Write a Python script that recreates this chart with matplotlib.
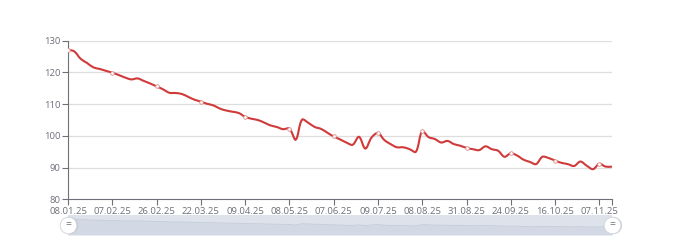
import matplotlib
matplotlib.use("Agg")
import matplotlib.pyplot as plt
import numpy as np
from matplotlib.path import Path
from matplotlib.patches import PathPatch, Rectangle

plt.rcParams["font.family"] = ["Open Sans", "DejaVu Sans"]

# one value per category; a date label is shown every LABEL_STEP points
values = [
    127.2, 126.6, 124.3, 123.0, 121.6, 121.1, 120.5, 119.9, 119.2, 118.4,
    117.8, 118.1, 117.3, 116.5, 115.6, 114.7, 113.6, 113.5, 113.2, 112.3,
    111.4, 110.8, 110.1, 109.6, 108.6, 108.0, 107.6, 107.2, 106.0, 105.4,
    105.0, 104.2, 103.3, 102.8, 102.1, 102.3, 98.8, 105.1, 104.1, 102.8,
    102.2, 101.0, 99.8, 98.9, 97.9, 97.2, 99.7, 96.0, 99.5, 100.9,
    98.7, 97.4, 96.4, 96.4, 95.8, 95.0, 101.5, 99.6, 99.0, 97.9,
    98.4, 97.4, 96.9, 96.2, 95.8, 95.5, 96.7, 95.8, 95.3, 93.4,
    94.5, 93.8, 92.5, 91.8, 91.1, 93.4, 93.0, 92.2, 91.5, 91.1,
    90.5, 91.9, 90.6, 89.5, 91.2, 90.3, 90.3,
]
tick_labels = ["08.01.25", "07.02.25", "26.02.25", "22.03.25", "09.04.25",
               "08.05.25", "07.06.25", "09.07.25", "08.08.25", "31.08.25",
               "24.09.25", "16.10.25", "07.11.25"]
LABEL_STEP = 7
y_ticks = [80, 90, 100, 110, 120, 130]

LINE = "#d03a3a"
AXIS = "#6e7079"
GRID = "#dedede"


def smooth_path(x, y, sx, sy, smooth=0.35):
    """echarts-like bezier smoothing, distances measured in pixel units"""
    px, py = x * sx, y * sy
    n = len(x)
    cps = []
    for i in range(n):
        p0 = (px[max(i - 1, 0)], py[max(i - 1, 0)])
        p2 = (px[min(i + 1, n - 1)], py[min(i + 1, n - 1)])
        vx, vy = p2[0] - p0[0], p2[1] - p0[1]
        d0 = np.hypot(px[i] - p0[0], py[i] - p0[1])
        d1 = np.hypot(p2[0] - px[i], p2[1] - py[i])
        s = d0 + d1
        if s:
            d0, d1 = d0 / s, d1 / s
        cps.append(((px[i] - vx * smooth * d0, py[i] - vy * smooth * d0),
                    (px[i] + vx * smooth * d1, py[i] + vy * smooth * d1)))
    verts = [(px[0], py[0])]
    codes = [Path.MOVETO]
    for i in range(n - 1):
        verts += [cps[i][1], cps[i + 1][0], (px[i + 1], py[i + 1])]
        codes += [Path.CURVE4] * 3
    verts = [(a / sx, b / sy) for a, b in verts]
    return Path(verts, codes)


x = np.arange(len(values), dtype=float)
y = np.array(values)

fig = plt.figure(figsize=(6.8, 2.4), dpi=100)
ax = fig.add_axes([68 / 680, 1 - 199.3 / 240, 544 / 680, 158.6 / 240])
ax.set_xlim(0, len(values) - 1)
ax.set_ylim(80, 130)

for t in y_ticks[1:]:
    ax.axhline(t, color=GRID, lw=0.9, zorder=0)

path = smooth_path(x, y, 6.33, 3.17)
ax.add_patch(PathPatch(path, fill=False, edgecolor=LINE, lw=1.5, zorder=3))
mk = x[::LABEL_STEP].astype(int)
ax.plot(x[mk], y[mk], ls="none", marker="o", ms=2.6, mfc="white",
        mec="#e08a8a", mew=0.6, zorder=4)

for s in ("top", "right"):
    ax.spines[s].set_visible(False)
for s in ("left", "bottom"):
    ax.spines[s].set_color(AXIS)
    ax.spines[s].set_linewidth(0.8)

tick_pos = list(range(0, len(values), LABEL_STEP))
ax.set_xticks(tick_pos + [len(values) - 1])
ax.set_xticklabels(tick_labels + [""])
ax.set_yticks(y_ticks)
ax.tick_params(axis="both", colors=AXIS, labelcolor=AXIS, labelsize=6.8,
               length=4, width=0.8, pad=1.5)

# dataZoom slider
sl = fig.add_axes([68 / 680, 1 - 235 / 240, 544 / 680, 20 / 240])
sl.set_xlim(0, len(values) - 1)
sl.set_ylim(53, 145.5)
sl.axis("off")
sl.add_patch(Rectangle((0, 53), len(values) - 1, 92.5, color="#dde2eb", lw=0))
sl.fill_between(x, 53, y, color="#d2d9e5", lw=0)
sl.plot(x, y, color="#c4ccda", lw=0.6)
for hx in (0.03, len(values) - 1):
    sl.plot(hx + 0.15, 97, marker="o", ms=12.5, mfc="#b8bcc4", mec="none",
            clip_on=False, zorder=5, alpha=0.6)
    sl.plot(hx, 99, marker="o", ms=12, mfc="white", mec="#d0d3d9", mew=0.6,
            clip_on=False, zorder=6)
    sl.text(hx, 99, "=", ha="center", va="center", fontsize=7.5,
            color="#6e7079", zorder=7, clip_on=False)

fig.savefig("out.png", dpi=100)
